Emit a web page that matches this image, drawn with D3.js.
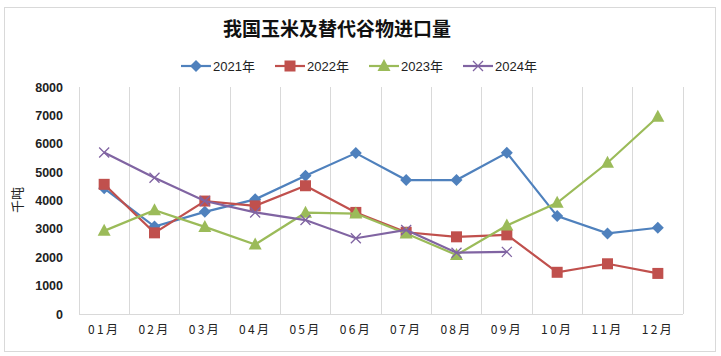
<!DOCTYPE html>
<html><head><meta charset="utf-8">
<script src="https://cdn.jsdelivr.net/npm/d3@7"></script>
<style>body{margin:0;background:#fff}svg{display:block}</style>
</head><body><svg id="c" width="721" height="356"></svg>
<script>
const months = ["01月","02月","03月","04月","05月","06月","07月","08月","09月","10月","11月","12月"];
const seriesNames = ["2021年","2022年","2023年","2024年"];
const v2021 = [4430,3080,3600,4040,4870,5670,4720,4720,5680,3450,2840,3040];
const v2022 = [4570,2860,3980,3810,4520,3580,2880,2720,2790,1470,1770,1430];
const v2023 = [2930,3660,3070,2450,3570,3540,2840,2080,3120,3920,5330,6950];
const v2024 = [5690,4800,3980,3580,3310,2670,2960,2160,2190];
const yTicks = [0,1000,2000,3000,4000,5000,6000,7000,8000];
const colors = ["#4F81BD","#C0504D","#9BBB59","#8064A2"];
const symbols = ["diamond","square","triangle","cross"];
const data = [v2021,v2022,v2023,v2024];

const svg = d3.select("#c");
svg.append("rect").attr("x",4.5).attr("y",7.5).attr("width",711).attr("height",344)
  .attr("fill","#fff").attr("stroke","#d9d9d9");

const L=79,R=683,T=87,B=314;
const x = d3.scaleBand().domain(months).range([L,R]);
const y = d3.scaleLinear().domain([0,8000]).range([B,T]);

const bounds = months.map(m=>x(m)).concat([R]);
svg.append("g").selectAll("line").data(bounds).join("line")
  .attr("x1",d=>d).attr("x2",d=>d).attr("y1",T).attr("y2",B)
  .attr("stroke","#d9d9d9").attr("stroke-width",1).attr("shape-rendering","crispEdges");
svg.append("line").attr("x1",L).attr("x2",R).attr("y1",B).attr("y2",B)
  .attr("stroke","#d9d9d9").attr("shape-rendering","crispEdges");

const ya = svg.append("g").attr("transform",`translate(${L},0)`)
  .call(d3.axisLeft(y).tickValues(yTicks).tickSize(0).tickPadding(16).tickFormat(d3.format("d")));
ya.select(".domain").remove();
ya.selectAll("text").attr("font-family","Liberation Sans, Arial, sans-serif").attr("font-size",12.5).attr("font-weight","bold").attr("fill","#222");

const xa = svg.append("g").attr("transform",`translate(0,${B})`)
  .call(d3.axisBottom(x).tickSize(0).tickPadding(11));
xa.select(".domain").remove();
xa.selectAll("text").attr("font-family","Noto Sans CJK SC, sans-serif").attr("font-size",12).attr("letter-spacing","2.3px").attr("fill","#222");

svg.append("text").attr("transform","translate(22,200) rotate(-90)").attr("text-anchor","middle")
  .attr("font-family","Noto Sans CJK SC, sans-serif").attr("font-size",13).attr("fill","#222").text("千吨");

svg.append("text").attr("x",337).attr("y",36).attr("text-anchor","middle")
  .attr("font-family","Noto Sans CJK SC, sans-serif").attr("font-size",19).attr("font-weight","bold").attr("fill","#111")
  .text("我国玉米及替代谷物进口量");

function marker(g, type, color, cx, cy){
  if(type==="diamond"){
    g.append("path").attr("d",`M${cx},${cy-6}L${cx+6},${cy}L${cx},${cy+6}L${cx-6},${cy}Z`).attr("fill",color);
  } else if(type==="square"){
    g.append("rect").attr("x",cx-5.5).attr("y",cy-5.5).attr("width",11).attr("height",11).attr("fill",color);
  } else if(type==="triangle"){
    g.append("path").attr("d",`M${cx},${cy-7}L${cx+6.5},${cy+5}L${cx-6.5},${cy+5}Z`).attr("fill",color);
  } else {
    g.append("path").attr("d",`M${cx-5},${cy-5}L${cx+5},${cy+5}M${cx-5},${cy+5}L${cx+5},${cy-5}`).attr("stroke",color).attr("stroke-width",1.3).attr("fill","none");
  }
}

const line = d3.line().x((d,i)=>x(months[i])+x.bandwidth()/2).y(d=>y(d));
data.forEach((vals,k)=>{
  const g = svg.append("g");
  g.append("path").attr("d",line(vals)).attr("fill","none").attr("stroke",colors[k]).attr("stroke-width",2.2);
  vals.forEach((v,i)=>marker(g,symbols[k],colors[k],x(months[i])+x.bandwidth()/2,y(v)));
});

const legX = [181,275,369,463];
seriesNames.forEach((n,k)=>{
  const g = svg.append("g");
  const lx = legX[k], ly = 66;
  g.append("line").attr("x1",lx).attr("x2",lx+30).attr("y1",ly).attr("y2",ly).attr("stroke",colors[k]).attr("stroke-width",2.2);
  marker(g,symbols[k],colors[k],lx+15,ly);
  g.append("text").attr("x",lx+32).attr("y",ly+4.5).attr("font-family","Liberation Sans, Noto Sans CJK SC, sans-serif")
    .attr("font-size",13).attr("fill","#222").text(n);
});
</script></body></html>
